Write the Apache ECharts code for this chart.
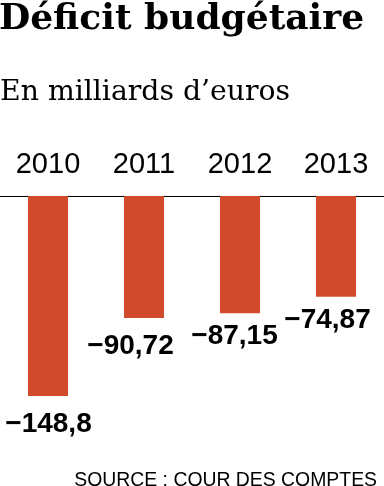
<!DOCTYPE html>
<html>
<head>
<meta charset="utf-8">
<script src="https://cdn.jsdelivr.net/npm/echarts@6/dist/echarts.min.js"></script>
<style>html,body{margin:0;padding:0;background:#fff}#c{width:384px;height:486px}</style>
</head>
<body>
<div id="c"></div>
<script>
const categories = ['2010', '2011', '2012', '2013'];
const values = [-148.8, -90.72, -87.15, -74.87];
const titleText = 'Déficit budgétaire';
const subtitleText = 'En milliards d\u2019euros';
const sourceText = 'SOURCE : COUR DES COMPTES';

const sans = '"Liberation Sans", Arial, sans-serif';
const labelTweaks = [[0.5, 14], [-13.5, 14], [-5.5, 9], [-8.5, 10]];
const chart = echarts.init(document.getElementById('c'), null, {renderer: 'canvas'});
const fmt = v => '\u2212' + String(Math.abs(v)).replace('.', ',');
chart.setOption({
  animation: false,
  backgroundColor: '#fff',
  title: [
    {text: titleText, left: -1, top: 2, padding: 0,
     textStyle: {fontFamily: 'DejaVu Serif', fontWeight: 'bold', fontSize: 36, color: '#000'}},
    {text: subtitleText, left: 0, top: 79, padding: 0,
     textStyle: {fontFamily: 'DejaVu Serif', fontWeight: 'normal', fontSize: 28.3, color: '#000'}},
    {text: sourceText, right: 7, bottom: -4, padding: 0,
     textStyle: {fontFamily: sans, fontWeight: 'normal', fontSize: 19.4, color: '#000'}}
  ],
  grid: {left: -2, right: -2, top: 196, bottom: 88.4},
  xAxis: {
    type: 'category', data: categories, position: 'top', offset: 2,
    axisLine: {show: true, lineStyle: {color: '#000', width: 1}},
    axisTick: {show: false},
    axisLabel: {fontFamily: sans, fontSize: 29, color: '#000', margin: 15}
  },
  yAxis: {type: 'value', min: -150, max: 0, show: false, splitLine: {show: false}},
  series: [{
    type: 'bar', barWidth: 40,
    itemStyle: {color: '#D14A2B'},
    data: values.map((v, i) => ({
      value: v,
      label: {offset: [labelTweaks[i][0], 0], distance: labelTweaks[i][1]}
    })),
    label: {
      show: true, position: 'bottom', formatter: p => fmt(p.value),
      fontFamily: sans, fontWeight: 'bold', fontSize: 28, color: '#000'
    }
  }]
});
</script>
</body>
</html>
